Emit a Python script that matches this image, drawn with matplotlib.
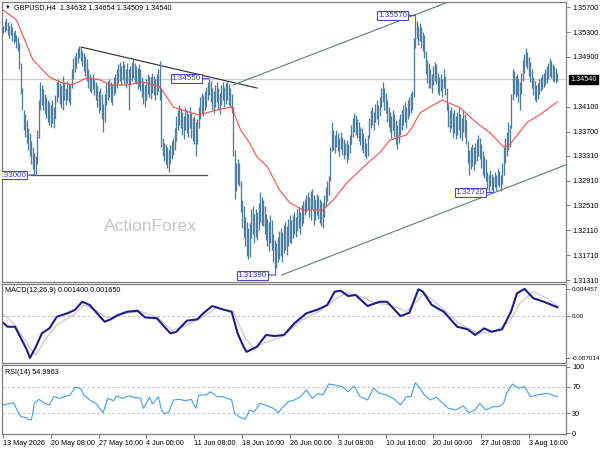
import numpy as np
import matplotlib.pyplot as plt
from matplotlib.transforms import blended_transform_factory

plt.rcParams['font.family'] = ['Liberation Sans', 'DejaVu Sans']

# H4 bars, highs / lows in pips above 1.3000
hi_pips = [540, 548, 552, 547, 540, 545, 538, 530, 533, 526, 522,
           512, 480, 440,
           405, 398, 388, 375, 368, 355, 345, 335, 330,
           372, 420, 450,
           445, 438, 430, 425, 420, 418, 412, 420, 410, 428,
           450, 455, 448, 445, 460, 450, 440, 452, 448, 445,
           470, 488, 492, 498, 505, 508, 506, 500, 496,
           492, 486, 470, 462, 458, 462,
           455, 450, 445, 435, 440, 430, 415, 430, 448, 452,
           455, 450, 446, 458, 462, 470,
           478, 482, 476, 484, 478, 470, 480, 470, 475, 482, 486, 480, 476, 472, 478, 470,
           458, 452, 445, 455, 462, 460, 458, 465, 460, 455, 462, 470,
           484, 440,
           360, 352, 350, 345, 340, 348, 355, 360,
           375, 395, 405, 412,
           408, 402, 395, 410, 405, 398, 410, 400, 392, 395, 385, 390,
           410, 425, 432, 428, 436, 442,
           450, 455, 452,
           440, 436, 445, 450, 440, 432, 445, 450, 442, 448, 452, 446, 440,
           430, 410, 340, 320,
           325, 320,
           290, 260, 250, 232, 225, 215, 222,
           245, 250, 238, 246, 240,
           255, 272, 265, 260, 250,
           238, 230, 225, 235, 228,
           205, 195, 190, 200, 210,
           215, 208, 220, 225, 218, 230, 235,
           228, 235, 240, 232, 245, 248, 240, 252, 258,
           262, 268, 272, 265, 275, 278, 268, 262, 270, 266, 262, 258, 255,
           268, 280, 290, 298,
           345, 385,
           372, 365, 372, 368, 360, 370, 362, 358, 352, 356, 350, 365,
           380, 392, 400, 396, 390, 385, 378,
           375, 368, 360, 352, 365,
           392, 405, 410, 402, 415, 420, 412, 425,
           440, 450, 440, 432,
           420, 410, 402, 395, 405, 398, 388, 380, 390,
           398, 405, 412, 418, 410, 420, 426, 432, 436,
           520, 557,
           548, 540, 545, 538, 530, 525,
           500, 485, 480,
           470, 462, 475, 482, 478, 465, 458, 462, 455, 470, 460,
           440, 415, 405, 410,
           400, 405, 395, 402, 410, 398, 392, 405, 398, 388,
           355, 340, 345, 350, 345, 352, 358, 365, 360, 350, 338, 330, 325,
           305, 300, 308, 302, 298, 305, 300, 310, 306, 300,
           320, 345, 360, 370, 385, 380,
           430, 470, 468, 460, 462, 455,
           450, 465,
           485, 495, 505, 498, 490, 482,
           470, 458, 452, 445, 448,
           455, 458, 462, 465, 470, 475,
           480, 488, 484, 478, 475, 472, 465]

lo_pips = [528, 530, 534, 525, 520, 526, 516, 512, 515, 505, 500,
           470, 430, 405,
           372, 362, 352, 340, 330, 318, 310, 300, 302,
           318, 360, 405,
           412, 405, 398, 392, 385, 380, 378, 384, 376, 390,
           418, 425, 415, 408, 405, 420, 412, 420, 418, 412,
           440, 455, 466, 472, 480, 488, 484, 476, 468,
           460, 452, 440, 436, 432, 438,
           428, 420, 410, 400, 405, 390, 370, 385, 412, 420,
           425, 418, 412, 428, 432, 440,
           448, 452, 445, 455, 447, 440, 448, 405, 445, 452, 456, 450, 446, 438, 444, 436,
           425, 415, 410, 420, 430, 425, 422, 432, 428, 420, 428, 435,
           420, 345,
           330, 322, 318, 312, 305, 318, 325, 332,
           340, 355, 372, 380,
           375, 365, 358, 372, 368, 362, 375, 360, 355, 350, 330, 350,
           375, 390, 400, 395, 405, 410,
           420, 428, 418,
           405, 400, 410, 418, 405, 398, 412, 420, 410, 415, 420, 412, 410,
           400, 330, 262, 275,
           285, 282,
           240, 215, 200, 185, 170, 165, 168,
           198, 205, 190, 200, 196,
           212, 225, 220, 218, 205,
           195, 185, 178, 190, 180,
           160, 139, 150, 160, 165,
           170, 160, 175, 180, 172, 185, 190,
           190, 198, 205, 200, 210, 215, 205, 218, 222,
           235, 240, 245, 232, 228, 245, 220, 228, 235, 230, 222, 218, 215,
           232, 248, 258, 268,
           290, 338,
           340, 335, 345, 338, 330, 342, 332, 326, 332, 320, 325, 335,
           350, 362, 370, 365, 360, 355, 348,
           340, 335, 330, 325, 330,
           360, 375, 380, 372, 385, 390, 380, 395,
           410, 418, 405, 400,
           385, 378, 370, 360, 372, 362, 350, 342, 352,
           365, 372, 380, 385, 376, 390, 395, 400, 405,
           425, 505,
           520, 510, 515, 505, 500, 488,
           462, 448, 440,
           440, 432, 445, 452, 446, 432, 428, 435, 425, 440, 428,
           405, 378, 370, 375,
           362, 368, 358, 365, 372, 360, 355, 370, 362, 350,
           320, 300, 310, 315, 308, 318, 322, 330, 325, 312, 300, 295, 290,
           278, 275, 282, 276, 272, 280, 275, 284, 280, 274,
           285, 300, 320, 330, 340, 345,
           375, 420, 430, 425, 428, 418,
           405, 430,
           452, 465, 475, 470, 460, 450,
           440, 428, 420, 418, 422,
           430, 435, 438, 442, 445, 448,
           455, 460, 456, 452, 450, 448, 451]

# moving average (red) sampled at bar index
ma_bars = [0, 9, 20, 31, 38, 46, 56, 65, 72, 83, 92, 98, 105, 114, 120, 131, 143, 153,
           159, 165, 170, 177, 185, 192, 201, 214, 221, 230, 244, 252, 259, 270, 274,
           279, 288, 294, 306, 317, 326, 335, 339, 351, 359, 371]
ma_vals = [1.35657, 1.35496, 1.34852, 1.34578, 1.34497, 1.34449, 1.34562, 1.3453,
           1.34449, 1.34449, 1.34497, 1.34473, 1.34417, 1.34095, 1.34047, 1.33966,
           1.34047, 1.34095, 1.33725, 1.33516, 1.33291, 1.3313, 1.32759, 1.3255,
           1.32437, 1.32437, 1.32598, 1.32872, 1.33194, 1.33355, 1.33564, 1.33645,
           1.33774, 1.33999, 1.34128, 1.34208, 1.3408, 1.33838, 1.33677, 1.33452,
           1.33484, 1.33854, 1.33967, 1.34176]

macd_bars = [0, 3, 8, 12, 16, 18, 22, 26, 31, 36, 43, 48, 53, 58, 63, 68, 72, 77, 83,
             90, 95, 103, 108, 112, 116, 123, 130, 134, 140, 147, 153, 157, 161, 163,
             170, 176, 182, 188, 195, 203, 211, 217, 222, 226, 231, 236, 244, 252, 257,
             266, 272, 278, 281, 287, 295, 304, 311, 316, 322, 327, 334, 340, 344, 349,
             355, 362, 371]
macd_vals = [-0.00116, -0.00183, -0.00183, -0.00375, -0.0057, -0.00701, -0.00515,
             -0.00292, -0.0021, -0.00017, 0.0004, 0.00095, 0.00232, 0.00178, 0.0004,
             -0.001, -0.0006, 0.00012, 0.00066, 0.00083, -0.00027, -0.00043, -0.00183,
             -0.00292, -0.00266, -0.00083, -0.0006, 0.0004, 0.00161, 0.00106, 0.00066,
             -0.00292, -0.00515, -0.006, -0.00515, -0.0032, -0.00337, -0.0032, -0.00126,
             0.0004, 0.00106, 0.00178, 0.004, 0.00415, 0.00327, 0.00344, 0.00161,
             0.00232, 0.00232, -0.00005, 0.0005, 0.00438, 0.004, 0.00178, 0.00066,
             -0.00183, -0.00226, -0.0032, -0.0021, -0.00266, -0.00226, 0.00066,
             0.00372, 0.00446, 0.00289, 0.00232, 0.0014]

signal_bars = [0, 8, 18, 22, 29, 36, 47, 54, 62, 70, 82, 92, 103, 113, 121, 131, 143,
               154, 162, 168, 177, 187, 200, 213, 221, 230, 239, 249, 259, 270, 282,
               293, 305, 318, 328, 339, 346, 355, 364, 371]
signal_vals = [0.0003, -0.0015, -0.0054, -0.0065, -0.0037, -0.0015, 0.0001, 0.0018,
               0.0009, -0.0004, 0.0004, 0.0007, -0.0002, -0.0024, -0.0018, -0.0006,
               0.0013, 0.0007, -0.0037, -0.0054, -0.0043, -0.0035, -0.0007, 0.0009,
               0.0026, 0.0038, 0.0032, 0.0021, 0.0018, 0.0007, 0.0037, 0.0015, -0.0012,
               -0.0029, -0.0027, -0.001, 0.0021, 0.004, 0.0029, 0.00165]

rsi_bars = [0, 3, 7, 10, 12, 15, 17, 19, 21, 24, 27, 31, 34, 38, 41, 45, 48, 52, 54,
            58, 62, 67, 70, 74, 76, 80, 84, 88, 92, 94, 98, 100, 104, 106, 108, 111,
            114, 118, 122, 126, 129, 131, 136, 139, 143, 147, 150, 153, 155, 158, 162,
            165, 168, 172, 177, 181, 184, 188, 191, 195, 199, 203, 207, 211, 214, 218,
            222, 227, 231, 235, 239, 244, 248, 252, 257, 262, 266, 270, 273, 276, 278,
            282, 286, 290, 294, 298, 303, 308, 312, 316, 319, 323, 328, 332, 335, 337,
            341, 345, 349, 353, 357, 364, 371]
rsi_vals = [42.5, 44, 46, 32, 25, 24, 21, 20, 45, 51, 46, 42.5, 55, 52.5, 55, 57.5, 69,
            67.5, 57.5, 50, 45, 31, 52.5, 49, 56, 52.5, 56, 54, 52.5, 37.5, 54, 44, 55,
            35, 29, 32, 50, 51, 49, 51, 37.5, 57.5, 57.5, 62.5, 55, 55, 52.5, 50, 30, 25,
            21, 35, 32, 45, 41, 37.5, 31, 41, 47.5, 50, 55, 65, 52.5, 60, 57.5, 74, 72.5,
            70, 62.5, 71, 55, 50, 67.5, 60, 57.5, 51, 42.5, 55, 55, 76, 71, 57.5, 50, 54,
            46, 37.5, 35, 41, 31, 35, 45, 35, 40, 40, 45, 60, 74, 67.5, 70, 55, 57.5, 60,
            55]

date_bars = [0, 32, 64, 96, 128, 160, 192, 224, 256, 288, 320, 352]
date_labels = ['13 May 2026', '20 May 08:00', '27 May 16:00', '4 Jun 00:00',
               '11 Jun 08:00', '18 Jun 16:00', '26 Jun 00:00', '3 Jul 08:00',
               '10 Jul 16:00', '20 Jul 00:00', '27 Jul 08:00', '3 Aug 16:00']

price_ticks = [1.3131, 1.3171, 1.3211, 1.3251, 1.3291, 1.3331, 1.3370, 1.3410,
               1.3490, 1.3530, 1.3570]
last_price = 1.3454

# marked highs / lows (bar index, price)
mark_bars = [21, 138, 182, 276, 328]
mark_prices = [1.3300, 1.3455, 1.3139, 1.3557, 1.3272]

# drawn lines (bar index pairs, price pairs)
support_line = ([18.5, 136.5], [1.3300, 1.3300])
down_line = ([52.2, 170.0], [1.3506, 1.3440])
channel_top = ([154.0, 300.0], [1.34449, 1.35804])
channel_bottom = ([186.5, 376.8], [1.3139, 1.33164])

W, H = 600, 450
LEFT, RIGHT = 2, 566
FS = 5.2
GRID = '#7f7f7f'


def px_axes(top, bottom, sharex=None):
    return fig.add_axes([LEFT / W, 1 - bottom / H, (RIGHT - LEFT) / W, (bottom - top) / H],
                        sharex=sharex)


def style(ax):
    for s in ax.spines.values():
        s.set_color(GRID)
        s.set_linewidth(0.9)
    ax.yaxis.tick_right()
    ax.tick_params(axis='y', labelsize=FS, length=3, pad=1.5, color=GRID, width=0.7)
    ax.tick_params(axis='x', bottom=False, labelbottom=False)


fig = plt.figure(figsize=(6, 4.5), dpi=100)
ax1 = px_axes(2, 282)
ax2 = px_axes(283.5, 363, sharex=ax1)
ax3 = px_axes(365, 434, sharex=ax1)
for a in (ax1, ax2, ax3):
    style(a)

bars = np.arange(len(hi_pips))
highs = 1.3 + np.array(hi_pips) / 1e4
lows = 1.3 + np.array(lo_pips) / 1e4

# main price panel
ax1.axhline(last_price, color='#cfcfcf', lw=1.0, zorder=1)
ax1.text(150 / W, 1 - 226.7 / H, 'ActionForex', transform=fig.transFigure,
         ha='center', va='center', fontsize=12.5, color='#c6c6c6', zorder=0)
ax1.vlines(bars, lows, highs, color='#4b7e9f', lw=0.95, zorder=3)
ax1.plot(ma_bars, ma_vals, color='#ff4a4a', lw=0.8, zorder=4)
ax1.plot(*support_line, color='#555555', lw=0.9, zorder=2)
ax1.plot(*down_line, color='#2a2a2a', lw=0.8, zorder=2)
ax1.plot(*channel_top, color='#5f7d74', lw=0.8, zorder=2)
ax1.plot(*channel_bottom, color='#5f7d74', lw=0.8, zorder=2)

for b, p in zip(mark_bars, mark_prices):
    ax1.annotate(f'{p:.5f}', xy=(b, p), xytext=(-6, 0), textcoords='offset points',
                 ha='right', va='center', fontsize=FS + 0.6, color='#3a3ab0',
                 bbox=dict(boxstyle='square,pad=0.12', fc='white', ec='#4a4ac0', lw=0.8),
                 arrowprops=dict(arrowstyle='-', color='#4a4ac0', lw=0.8,
                                 shrinkA=0, shrinkB=0),
                 zorder=6, annotation_clip=False, clip_on=True)

ax1.set_xlim(-0.7, 376.8)
ax1.set_ylim(1.31278, 1.35785)
ax1.set_yticks(price_ticks)
ax1.set_yticklabels([f'{v:.5f}' for v in price_ticks])
tr = blended_transform_factory(ax1.transAxes, ax1.transData)
ax1.text(1 + 4 / 564, last_price, f'{last_price:.5f}', transform=tr, ha='left',
         va='center', fontsize=FS, color='white', zorder=10,
         bbox=dict(boxstyle='square,pad=0.18', fc='black', ec='black'))

# MACD panel
ax2.axhline(0, color='#b5b5b5', lw=0.6, ls=(0, (3, 3)))
ax2.plot(signal_bars, signal_vals, color='#c4c4c4', lw=0.8)
ax2.plot(macd_bars, macd_vals, color='#1c1c8f', lw=1.5)
ax2.set_ylim(-0.00785, 0.00535)
ax2.set_yticks([-0.007014, 0.0, 0.004457])
ax2.set_yticklabels(['-0.007014', '0.00', '0.004457'])
ax2.tick_params(axis='y', labelsize=4.5, pad=1.0)

# RSI panel
for lvl in (30, 70):
    ax3.axhline(lvl, color='#b5b5b5', lw=0.6, ls=(0, (3, 3)))
ax3.plot(rsi_bars, rsi_vals, color='#3f9df2', lw=0.8)
ax3.set_ylim(-1.1, 102.6)
ax3.set_yticks([0, 30, 70, 100])
ax3.set_yticklabels(['0', '30', '70', '100'])
ax3.set_xticks(date_bars)
ax3.set_xticklabels(date_labels, ha='left')
ax3.tick_params(axis='x', bottom=True, labelbottom=True, labelsize=FS, length=3,
                pad=1.5, color=GRID, width=0.7)

# header texts
fig.text(5 / W, 1 - 7.3 / H, '\u25bc', fontsize=FS - 1, va='center')
fig.text(14 / W, 1 - 7.3 / H, 'GBPUSD,H4  1.34632 1.34654 1.34509 1.34540',
         fontsize=FS, va='center')
fig.text(5 / W, 1 - 291 / H, 'MACD(12,26,9) 0.001400 0.001650', fontsize=FS, va='center')
fig.text(5 / W, 1 - 372 / H, 'RSI(14) 54.9963', fontsize=FS, va='center')

fig.savefig('out.png', dpi=100)
